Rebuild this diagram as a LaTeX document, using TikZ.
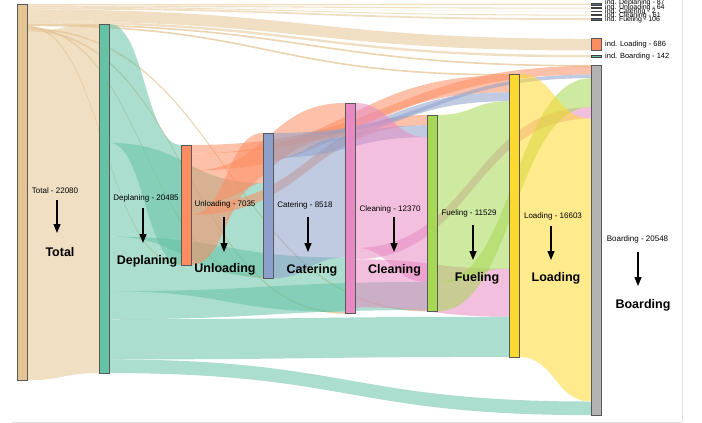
\documentclass[tikz,border=0pt]{standalone}
\usepackage{fontspec}
\setmainfont{Liberation Sans}
\usetikzlibrary{arrows.meta,calc}
\definecolor{cTot}{HTML}{E5C494}
\definecolor{cDep}{HTML}{66C2A5}
\definecolor{cUnl}{HTML}{FC8D62}
\definecolor{cCat}{HTML}{8DA0CB}
\definecolor{cCln}{HTML}{E78AC3}
\definecolor{cFue}{HTML}{A6D854}
\definecolor{cLoa}{HTML}{FFD92F}
\definecolor{cBoa}{HTML}{B3B3B3}
\definecolor{cSlate}{HTML}{5B6680}
\pgfdeclarelayer{bg}
\pgfsetlayers{bg,main}
% band from node #1 (y #2..#3) to node #4 (y #5..#6), style #7
\newcommand\band[7]{%
  \fill[fill opacity=0.55, #7] let \p1=(#1.east), \p2=(#4.west), \n1={0.5*\x1+0.5*\x2} in
  (\x1,-#2pt) .. controls (\n1,-#2pt) and (\n1,-#5pt) .. (\x2,-#5pt)
  -- (\x2,-#6pt) .. controls (\n1,-#6pt) and (\n1,-#3pt) .. (\x1,-#3pt) -- cycle;}
\begin{document}
\begin{tikzpicture}[x=1pt,y=-1pt,
  nd/.style={draw=black!65, line width=0.7pt, minimum width=10pt, inner sep=0pt, outer sep=0pt, anchor=north west},
  ind/.style={draw=black!75, line width=0.6pt, minimum width=10pt, inner sep=0pt, outer sep=0pt, anchor=north west},
  sm/.style={font=\fontsize{8}{9}\selectfont, inner sep=0pt},
  big/.style={font=\fontsize{12.5}{14}\selectfont\bfseries, inner sep=0pt},
  lg/.style={font=\fontsize{7.5}{8}\selectfont, inner sep=0pt, anchor=west},
  lgs/.style={font=\fontsize{7}{7}\selectfont, inner sep=0pt, anchor=west},
  thin/.style={cTot, fill opacity=0.75},
  arr/.style={-{Triangle[width=7pt,length=9pt]}, line width=1.4pt},
  frame/.style={draw=black!12, line width=1pt}]
\useasboundingbox (0,0) rectangle (702,423);
\draw[frame] (12,422) -- (682,422);
\draw[frame] (682,0) -- (682,422);
% main nodes
\node[nd, fill=cTot, minimum height=376.3pt] (tot) at (17,4) {};
\node[nd, fill=cDep, minimum height=349.1pt] (dep) at (99,24) {};
\node[nd, fill=cUnl, minimum height=119.9pt] (unl) at (181,145) {};
\node[nd, fill=cCat, minimum height=145.1pt] (cat) at (263,133) {};
\node[nd, fill=cCln, minimum height=210.8pt] (cln) at (345,103) {};
\node[nd, fill=cFue, minimum height=196.5pt] (fue) at (427,115) {};
\node[nd, fill=cLoa, minimum height=282.9pt] (loa) at (509,74) {};
\node[nd, fill=cBoa, minimum height=350.1pt] (boa) at (591,65) {};
% individual nodes
\node[ind, fill=cSlate, minimum height=1.48pt] (iDep) at (591,3.6) {};
\node[ind, fill=black, minimum height=1.09pt] (iUnl) at (591,7.6) {};
\node[ind, fill=black, minimum height=0.03pt] (iCat) at (591,11.2) {};
\node[ind, fill=black!80, minimum height=1.04pt] (iCln) at (591,14.6) {};
\node[ind, fill=cSlate, minimum height=1.81pt] (iFue) at (591,18.2) {};
\node[nd, fill=cUnl, minimum height=11.69pt] (iLoa) at (591,38.8) {};
\node[ind, fill=cDep, minimum height=2.42pt] (iBoa) at (591,55.0) {};
\begin{pgfonlayer}{bg}
% Total
\band{tot}{4.00}{5.48}{iDep}{3.6}{5.08}{cTot}
\band{tot}{5.48}{6.57}{iUnl}{7.6}{8.69}{cTot}
\band{tot}{6.57}{6.80}{iCat}{11.2}{11.43}{cTot}
\band{tot}{6.70}{7.64}{iCln}{14.6}{15.64}{cTot}
\band{tot}{7.64}{9.45}{iFue}{18.2}{20.01}{cTot}
\band{tot}{9.45}{21.14}{iLoa}{38.8}{50.49}{cTot}
\band{tot}{21.14}{23.56}{iBoa}{55.0}{57.42}{cTot}
\band{tot}{23.56}{25.16}{boa}{65.00}{66.60}{thin}
\band{tot}{24.53}{26.13}{loa}{74.00}{75.60}{thin}
\band{tot}{25.72}{27.32}{unl}{263.27}{264.87}{thin}
\band{tot}{26.74}{28.34}{cat}{276.54}{278.14}{thin}
\band{tot}{28.10}{29.70}{fue}{309.85}{311.45}{thin}
\band{tot}{29.46}{31.16}{cln}{312.08}{313.78}{thin}
\band{tot}{31.16}{380.22}{dep}{24.00}{373.06}{cTot}
% Deplaning
\band{dep}{24.00}{142.85}{unl}{145.00}{263.85}{cDep}
\band{dep}{142.85}{236.62}{cat}{183.01}{276.78}{cDep}
\band{dep}{236.62}{291.15}{cln}{257.55}{312.08}{cDep}
\band{dep}{291.15}{319.25}{fue}{281.99}{310.09}{cDep}
\band{dep}{319.25}{359.43}{loa}{316.74}{356.92}{cDep}
\band{dep}{359.43}{373.06}{boa}{401.51}{415.14}{cDep}
% Unloading
\band{unl}{145.00}{153.52}{boa}{65.97}{74.49}{cUnl}
\band{unl}{153.52}{170.56}{loa}{75.19}{92.23}{cUnl}
\band{unl}{170.56}{204.64}{cln}{103.00}{137.08}{cUnl}
\band{unl}{204.64}{214.86}{fue}{115.00}{125.22}{cUnl}
\band{unl}{214.86}{264.87}{cat}{133.00}{183.01}{cUnl}
% Catering
\band{cat}{133.00}{136.71}{boa}{74.49}{78.20}{cCat}
\band{cat}{136.71}{145.74}{loa}{92.23}{101.26}{cCat}
\band{cat}{145.74}{157.67}{fue}{125.22}{137.15}{cCat}
\band{cat}{157.67}{278.14}{cln}{137.08}{257.55}{cCat}
% Cleaning
\band{cln}{103.00}{247.84}{fue}{137.15}{281.99}{cCln}
\band{cln}{247.84}{259.26}{boa}{107.17}{118.59}{cCln}
\band{cln}{259.26}{307.25}{loa}{268.75}{316.74}{cCln}
% Fueling
\band{fue}{115.00}{282.49}{loa}{101.26}{268.75}{cFue}
\band{fue}{282.49}{311.46}{boa}{78.20}{107.17}{cFue}
% Loading
\band{loa}{74.00}{356.92}{boa}{118.59}{401.51}{cLoa}
\end{pgfonlayer}
% legend texts
\node[lgs] (tDep) at (605,3.0) {ind. Deplaning - 87};
\node[lgs] (tUnl) at (605,7.2) {ind. Unloading - 64};
\node[lgs] (tCat) at (605,11.2) {ind. Catering - 2};
\node[lgs] (tCln) at (605,15.2) {ind. Cleaning - 61};
\node[lgs] (tFue) at (605,19.4) {ind. Fueling - 106};
\node[lg] (tLoa) at (605,44.3) {ind. Loading - 686};
\node[lg] (tBoa) at (605,56.2) {ind. Boarding - 142};
% labels and arrows
\node[sm] (lTot) at (55,191) {Total - 22080};
\node[big] (bTot) at (60,252) {Total};
\coordinate (sTot) at (57,200); \coordinate (eTot) at (57,233);
\draw[arr] (sTot) -- (eTot);
\node[sm] (lDep) at (146,198) {Deplaning - 20485};
\node[big] (bDep) at (147,261) {Deplaning};
\coordinate (sDep) at (143,208); \coordinate (eDep) at (143,243);
\draw[arr] (sDep) -- (eDep);
\node[sm] (lUnl) at (225,204) {Unloading - 7035};
\node[big] (bUnl) at (225,269) {Unloading};
\coordinate (sUnl) at (224,217); \coordinate (eUnl) at (224,252);
\draw[arr] (sUnl) -- (eUnl);
\node[sm] (lCat) at (305,205) {Catering - 8518};
\node[big] (bCat) at (312,270) {Catering};
\coordinate (sCat) at (308,217); \coordinate (eCat) at (308,252);
\draw[arr] (sCat) -- (eCat);
\node[sm] (lCln) at (390,209) {Cleaning - 12370};
\node[big] (bCln) at (394.5,270) {Cleaning};
\coordinate (sCln) at (394,217); \coordinate (eCln) at (394,252);
\draw[arr] (sCln) -- (eCln);
\node[sm] (lFue) at (469,213) {Fueling - 11529};
\node[big] (bFue) at (477,278) {Fueling};
\coordinate (sFue) at (473,225); \coordinate (eFue) at (473,260);
\draw[arr] (sFue) -- (eFue);
\node[sm] (lLoa) at (553,216) {Loading - 16603};
\node[big] (bLoa) at (556,278) {Loading};
\coordinate (sLoa) at (551,226); \coordinate (eLoa) at (551,260);
\draw[arr] (sLoa) -- (eLoa);
\node[sm] (lBoa) at (637.5,239) {Boarding - 20548};
\node[big] (bBoa) at (643,305) {Boarding};
\coordinate (sBoa) at (638,252); \coordinate (eBoa) at (638,286);
\draw[arr] (sBoa) -- (eBoa);
\end{tikzpicture}
\end{document}
